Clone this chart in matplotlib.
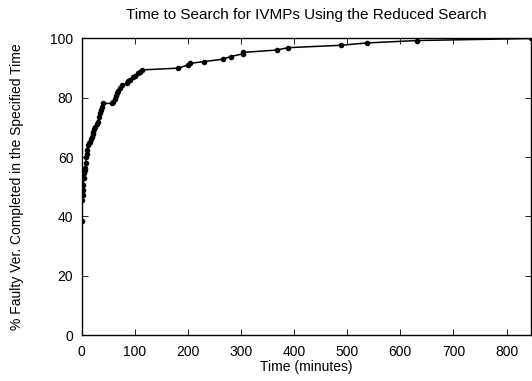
import matplotlib.pyplot as plt

plt.rcParams["font.family"] = ["Liberation Sans", "DejaVu Sans"]

# minutes until the faulty version finished, and cumulative % completed
time_min = [
    0, 0, 1.9, 1.9, 3, 4.3, 4.9, 6.2, 7, 8.1, 8.1, 9.4, 10.5, 12.4, 14,
    15.6, 17, 18.8, 20.5, 21.8, 23.5, 25, 28, 31, 33, 34.5, 36, 37.7,
    40.7, 56.5, 59.5, 62, 64, 66, 69, 72, 75.3, 84.7, 88, 91, 97, 100,
    106.6, 110, 113, 182, 200.8, 204, 230, 265.5, 280.6, 303, 304, 367,
    389, 488, 537, 631, 846,
]
pct_done = [
    38.5, 45.5, 47.2, 48.9, 50.6, 52.8, 54.5, 55.5, 56.2, 57.9, 60.1,
    61.2, 62.4, 64.1, 64.7, 65.2, 66.0, 66.9, 67.8, 68.6, 69.5, 70.3,
    71.1, 71.9, 73.5, 74.8, 76.0, 77.0, 78.1, 78.1, 78.7, 79.7, 80.6,
    81.5, 82.3, 83.2, 84.3, 84.9, 85.5, 86.0, 87.1, 87.5, 88.3, 88.8,
    89.4, 90.0, 91.1, 91.6, 92.2, 93.0, 93.9, 94.8, 95.3, 96.1, 96.9,
    97.7, 98.5, 99.3, 100.0,
]

x_ticks = [0, 100, 200, 300, 400, 500, 600, 700, 800]
y_ticks = [0, 20, 40, 60, 80, 100]

fig = plt.figure(figsize=(5.32, 3.81), dpi=100)
ax = fig.add_axes([0.1535, 0.1207, 0.8445, 0.7783])

ax.plot(time_min, pct_done, color="black", linewidth=1.1,
        marker="o", markersize=4, markeredgewidth=0)

ax.set_xlim(0, 846)
ax.set_ylim(0, 100)
ax.set_xticks(x_ticks)
ax.set_yticks(y_ticks)
ax.tick_params(direction="in", length=4, width=0.6, top=True, right=True,
               labelsize=10, pad=6)
ax.tick_params(axis="x", pad=7)
for s in ax.spines.values():
    s.set_linewidth(1.0)

ax.set_title("Time to Search for IVMPs Using the Reduced Search",
             fontsize=11, pad=14)
ax.set_xlabel("Time (minutes)", fontsize=10, labelpad=1)
ax.set_ylabel("% Faulty Ver. Completed in the Specified Time",
              fontsize=10, labelpad=19)

fig.savefig("out.png", dpi=100)
